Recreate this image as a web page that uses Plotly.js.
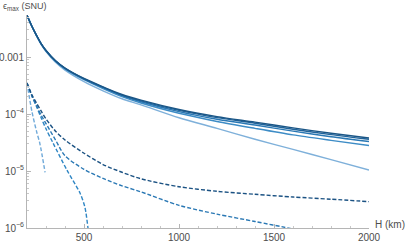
<!DOCTYPE html>
<html>
<head>
<meta charset="utf-8">
<script src="https://cdn.plot.ly/plotly-3.0.1.min.js"></script>
<style>
  html, body { margin: 0; padding: 0; background: #fff; }
  #plot { width: 407px; height: 242px; }
</style>
</head>
<body>
<div id="plot"></div>
<script>
// heights (km) where the curves are sampled
var H = [200, 225, 250, 275, 300, 350, 400, 500, 600, 700, 800, 1000, 1200, 1400, 1600, 1800, 2000];

// solid curves, eps_max in SNU
var solid1 = [5.4e-3, 3.5e-3, 2.4e-3, 1.7e-3, 1.3e-3, 8.6e-4, 6.4e-4, 4.2e-4, 3.0e-4, 2.2e-4, 1.75e-4, 1.2e-4, 9.0e-5, 7.2e-5, 5.7e-5, 4.6e-5, 3.8e-5];
var solid2 = [5.4e-3, 3.5e-3, 2.4e-3, 1.7e-3, 1.3e-3, 8.55e-4, 6.35e-4, 4.15e-4, 2.95e-4, 2.15e-4, 1.7e-4, 1.16e-4, 8.65e-5, 6.9e-5, 5.4e-5, 4.35e-5, 3.6e-5];
var solid3 = [5.4e-3, 3.5e-3, 2.4e-3, 1.7e-3, 1.29e-3, 8.5e-4, 6.3e-4, 4.1e-4, 2.9e-4, 2.1e-4, 1.64e-4, 1.1e-4, 8.1e-5, 6.4e-5, 5.0e-5, 4.0e-5, 3.3e-5];
var solid4 = [5.4e-3, 3.5e-3, 2.4e-3, 1.69e-3, 1.28e-3, 8.4e-4, 6.2e-4, 4.0e-4, 2.8e-4, 2.02e-4, 1.56e-4, 1.03e-4, 7.4e-5, 5.6e-5, 4.3e-5, 3.45e-5, 2.8e-5];
var solid5 = [5.4e-3, 3.5e-3, 2.35e-3, 1.65e-3, 1.25e-3, 8.1e-4, 5.9e-4, 3.7e-4, 2.55e-4, 1.85e-4, 1.45e-4, 8.6e-5, 5.6e-5, 3.6e-5, 2.4e-5, 1.58e-5, 1.04e-5];

// dashed curves (some stop early)
var dashH1 = [200, 225, 250, 275, 300, 350, 400, 500, 600, 700, 800, 1000, 1200, 1400, 1600, 1800, 2000];
var dash1 = [3.5e-4, 2.2e-4, 1.55e-4, 1.12e-4, 8.2e-5, 5.0e-5, 3.5e-5, 2.05e-5, 1.3e-5, 9.5e-6, 7.3e-6, 5.3e-6, 4.4e-6, 3.9e-6, 3.5e-6, 3.2e-6, 2.9e-6];
var dashH2 = [200, 225, 250, 275, 300, 350, 400, 500, 600, 700, 800, 1000, 1200, 1400, 1600, 1700];
var dash2 = [3.5e-4, 2.1e-4, 1.4e-4, 9.5e-5, 6.8e-5, 3.5e-5, 1.85e-5, 1.07e-5, 7.4e-6, 5.5e-6, 4.3e-6, 2.5e-6, 1.75e-6, 1.3e-6, 9.6e-7, 8.0e-7];
var dashH3 = [200, 225, 250, 275, 300, 337, 410, 479, 505, 521, 530];
var dash3 = [3.5e-4, 2.1e-4, 1.35e-4, 8.5e-5, 5.5e-5, 3.1e-5, 1.04e-5, 4.1e-6, 2.3e-6, 1.0e-6, 6.0e-7];
var dashH4 = [200, 226, 250, 268, 295];
var dash4 = [3.5e-4, 1.1e-4, 5.0e-5, 3.0e-5, 9.5e-6];

// axis ticks
var yMajor = [1e-6, 1e-5, 1e-4, 1e-3];
var yMajorText = ["10<sup>\u22126</sup>", "10<sup>\u22125</sup>", "10<sup>\u22124</sup>", "0.001"];
var yMinor = [];
[1e-6, 1e-5, 1e-4, 1e-3].forEach(function (d) {
  for (var k = 2; k <= 9; k++) yMinor.push(k * d);
});
var xMajor = [500, 1000, 1500, 2000];
var xMinor = [];
for (var v = 300; v < 2000; v += 100) if (v % 500 !== 0) xMinor.push(v);

function line(x, y, color, dash) {
  return {
    x: x, y: y, type: 'scatter', mode: 'lines',
    line: { color: color, width: 1.4, dash: dash || 'solid', shape: 'spline', smoothing: 0.8 },
    hoverinfo: 'skip', showlegend: false
  };
}

var data = [
  line(H, solid5, '#7eb0da'),
  line(H, solid4, '#3d8cc6'),
  line(H, solid3, '#2a78b4'),
  line(H, solid2, '#1f649c'),
  line(H, solid1, '#1b5686'),
  line(dashH4, dash4, '#6fa9d9', '4px,2px'),
  line(dashH3, dash3, '#2f86c4', '4px,2px'),
  line(dashH2, dash2, '#2a78b4', '4px,2px'),
  line(dashH1, dash1, '#1b5283', '4px,2px')
];

var fontFam = 'Liberation Sans, Arial, sans-serif';
var tickFont = { family: fontFam, size: 10, color: '#4d4d4d' };

var layout = {
  width: 407, height: 242,
  margin: { l: 27, r: 38, t: 15, b: 14, pad: 0 },
  paper_bgcolor: '#fff', plot_bgcolor: '#fff',
  xaxis: {
    range: [200, 2000], showgrid: false, zeroline: false,
    showline: true, linecolor: '#b5b5b5', linewidth: 1,
    tickmode: 'array', tickvals: xMajor, ticktext: xMajor.map(String),
    ticks: 'inside', ticklen: 4, tickcolor: '#b5b5b5',
    tickfont: tickFont,
    minor: { tickmode: 'array', tickvals: xMinor, ticks: 'inside', ticklen: 2, tickcolor: '#c8c8c8', showgrid: false }
  },
  yaxis: {
    type: 'log', range: [-6, -2.263], showgrid: false, zeroline: false,
    showline: true, linecolor: '#b5b5b5', linewidth: 1,
    tickmode: 'array', tickvals: yMajor, ticktext: yMajorText,
    ticks: 'inside', ticklen: 4, tickcolor: '#b5b5b5',
    tickfont: tickFont,
    minor: { tickmode: 'array', tickvals: yMinor, ticks: 'inside', ticklen: 2, tickcolor: '#c8c8c8', showgrid: false }
  },
  annotations: [
    {
      text: '\u03f5<sub>max</sub> (SNU)', xref: 'paper', yref: 'paper',
      x: -26 / 342, y: 1 + 8 / 213, xanchor: 'left', yanchor: 'middle',
      showarrow: false, font: { family: fontFam, size: 9, color: '#4d4d4d' }
    },
    {
      text: 'H (km)', xref: 'paper', yref: 'paper',
      x: 1 + 4 / 342, y: 4 / 213, xanchor: 'left', yanchor: 'middle',
      showarrow: false, font: { family: fontFam, size: 10, color: '#4d4d4d' }
    }
  ]
};

Plotly.newPlot('plot', data, layout, { staticPlot: true, displayModeBar: false });
</script>
</body>
</html>
